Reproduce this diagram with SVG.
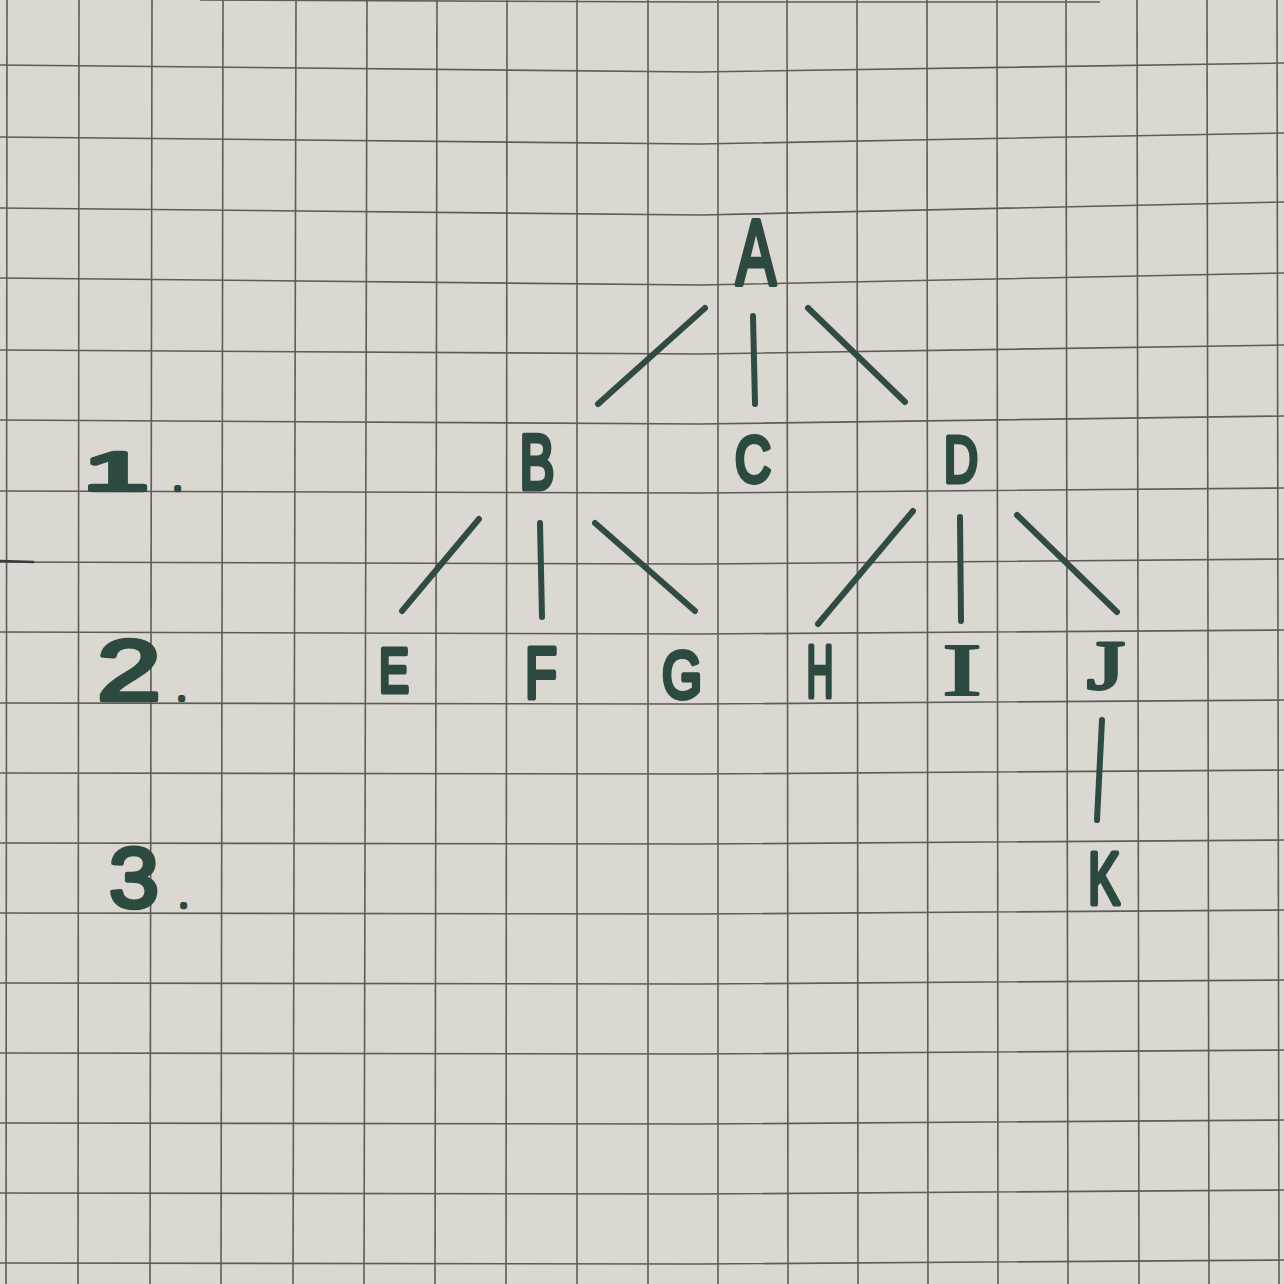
<svg xmlns="http://www.w3.org/2000/svg" width="1284" height="1284" viewBox="0 0 1284 1284">
<style>
.grid line,.grid polyline{stroke:#5f5b58;stroke-width:1.6;fill:none}
.edge{stroke:#2f4b42;stroke-width:6;stroke-linecap:round;fill:none}
.lbl{font-family:"Liberation Sans",Arial,sans-serif;font-weight:normal;fill:#2d4a40;stroke:#2d4a40;stroke-width:5;stroke-linejoin:round;stroke-linecap:round;text-anchor:middle}
.serif{font-family:"Liberation Serif","Times New Roman",serif}
.lvl{font-family:"Liberation Sans",Arial,sans-serif;font-weight:normal;fill:#2d4a40;stroke:#2d4a40;stroke-width:4.5;stroke-linejoin:round;stroke-linecap:round}
</style>
<rect width="1284" height="1284" fill="#dbd8d2"/>
<g class="grid" id="grid">
<line x1="7" y1="0" x2="6" y2="1284"/>
<line x1="79" y1="0" x2="78" y2="1284"/>
<line x1="152" y1="0" x2="150" y2="1284"/>
<line x1="223" y1="0" x2="221" y2="1284"/>
<line x1="296" y1="0" x2="293" y2="1284"/>
<line x1="367" y1="0" x2="364" y2="1284"/>
<line x1="437" y1="0" x2="435" y2="1284"/>
<line x1="507" y1="0" x2="506" y2="1284"/>
<line x1="577" y1="0" x2="577" y2="1284"/>
<line x1="648" y1="0" x2="648" y2="1284"/>
<line x1="718" y1="0" x2="718" y2="1284"/>
<line x1="787" y1="0" x2="788" y2="1284"/>
<line x1="857" y1="0" x2="858" y2="1284"/>
<line x1="927" y1="0" x2="928" y2="1284"/>
<line x1="997" y1="0" x2="998" y2="1284"/>
<line x1="1066" y1="0" x2="1068" y2="1284"/>
<line x1="1137" y1="0" x2="1139" y2="1284"/>
<line x1="1207" y1="0" x2="1209" y2="1284"/>
<line x1="1277" y1="0" x2="1279" y2="1284"/>
<polyline points="200,0 700,2 1100,2"/>
<polyline points="0,65 700,72 1284,63"/>
<polyline points="0,137 700,144 1284,133"/>
<polyline points="0,208 700,215 1284,202"/>
<polyline points="0,278 700,285 1284,273"/>
<polyline points="0,350 700,354 1284,345"/>
<polyline points="0,420 700,424 1284,416"/>
<polyline points="0,491 700,493 1284,488"/>
<polyline points="0,562 700,564 1284,559"/>
<polyline points="0,632 700,634 1284,630"/>
<polyline points="0,703 700,704 1284,700"/>
<polyline points="0,773 700,774 1284,770"/>
<polyline points="0,843 700,844 1284,840"/>
<polyline points="0,913 700,914 1284,910"/>
<polyline points="0,983 700,984 1284,980"/>
<polyline points="0,1053 700,1054 1284,1050"/>
<polyline points="0,1123 700,1124 1284,1120"/>
<polyline points="0,1193 700,1194 1284,1190"/>
<polyline points="0,1263 700,1264 1284,1260"/>
<line x1="0" y1="561" x2="34" y2="562" style="stroke:#3a3a3a;stroke-width:2.5"/>
</g>
<g id="connectors">
<line class="edge" x1="705" y1="308" x2="598" y2="404"/>
<line class="edge" x1="753" y1="316" x2="755" y2="404"/>
<line class="edge" x1="808" y1="308" x2="905" y2="402"/>
<line class="edge" x1="479" y1="519" x2="402" y2="611"/>
<line class="edge" x1="540" y1="523" x2="542" y2="617"/>
<line class="edge" x1="595" y1="523" x2="695" y2="611"/>
<line class="edge" x1="913" y1="511" x2="818" y2="624"/>
<line class="edge" x1="960" y1="517" x2="961" y2="621"/>
<line class="edge" x1="1017" y1="515" x2="1117" y2="612"/>
<line class="edge" x1="1102" y1="720" x2="1097" y2="820"/>
</g>
<g id="levels">
<text class="lvl" font-size="54" x="84" y="490"><tspan textLength="64" lengthAdjust="spacingAndGlyphs">1</tspan><tspan x="174" font-size="26">.</tspan></text>
<text class="lvl" font-size="86" x="97" y="700"><tspan textLength="64" lengthAdjust="spacingAndGlyphs">2</tspan><tspan x="178" font-size="26">.</tspan></text>
<text class="lvl" font-size="86" x="109" y="907"><tspan textLength="50" lengthAdjust="spacingAndGlyphs">3</tspan><tspan x="180" font-size="26">.</tspan></text>
</g>
<g id="node-A"><text class="lbl" x="756" y="285" font-size="92" textLength="40" lengthAdjust="spacingAndGlyphs">A</text></g>
<g id="node-B"><text class="lbl" x="537" y="489" font-size="77" textLength="35" lengthAdjust="spacingAndGlyphs">B</text></g>
<g id="node-C"><text class="lbl" x="753" y="482" font-size="64" textLength="36" lengthAdjust="spacingAndGlyphs">C</text></g>
<g id="node-D"><text class="lbl" x="961" y="482" font-size="65" textLength="34" lengthAdjust="spacingAndGlyphs">D</text></g>
<g id="node-E"><text class="lbl" x="394" y="692" font-size="63" textLength="30" lengthAdjust="spacingAndGlyphs">E</text></g>
<g id="node-F"><text class="lbl" x="541" y="698" font-size="72" textLength="32" lengthAdjust="spacingAndGlyphs">F</text></g>
<g id="node-G"><text class="lbl" x="682" y="698" font-size="67" textLength="40" lengthAdjust="spacingAndGlyphs">G</text></g>
<g id="node-H"><text class="lbl" x="820" y="697" font-size="74" textLength="27" lengthAdjust="spacingAndGlyphs">H</text></g>
<g id="node-I"><text class="lbl serif" x="962" y="695" font-size="74" textLength="40" lengthAdjust="spacingAndGlyphs" style="stroke-width:2">I</text></g>
<g id="node-J"><text class="lbl serif" x="1106" y="689" font-size="70" textLength="38" lengthAdjust="spacingAndGlyphs" style="stroke-width:3">J</text></g>
<g id="node-K"><text class="lbl" x="1104" y="904" font-size="74" textLength="32" lengthAdjust="spacingAndGlyphs">K</text></g>
</svg>
